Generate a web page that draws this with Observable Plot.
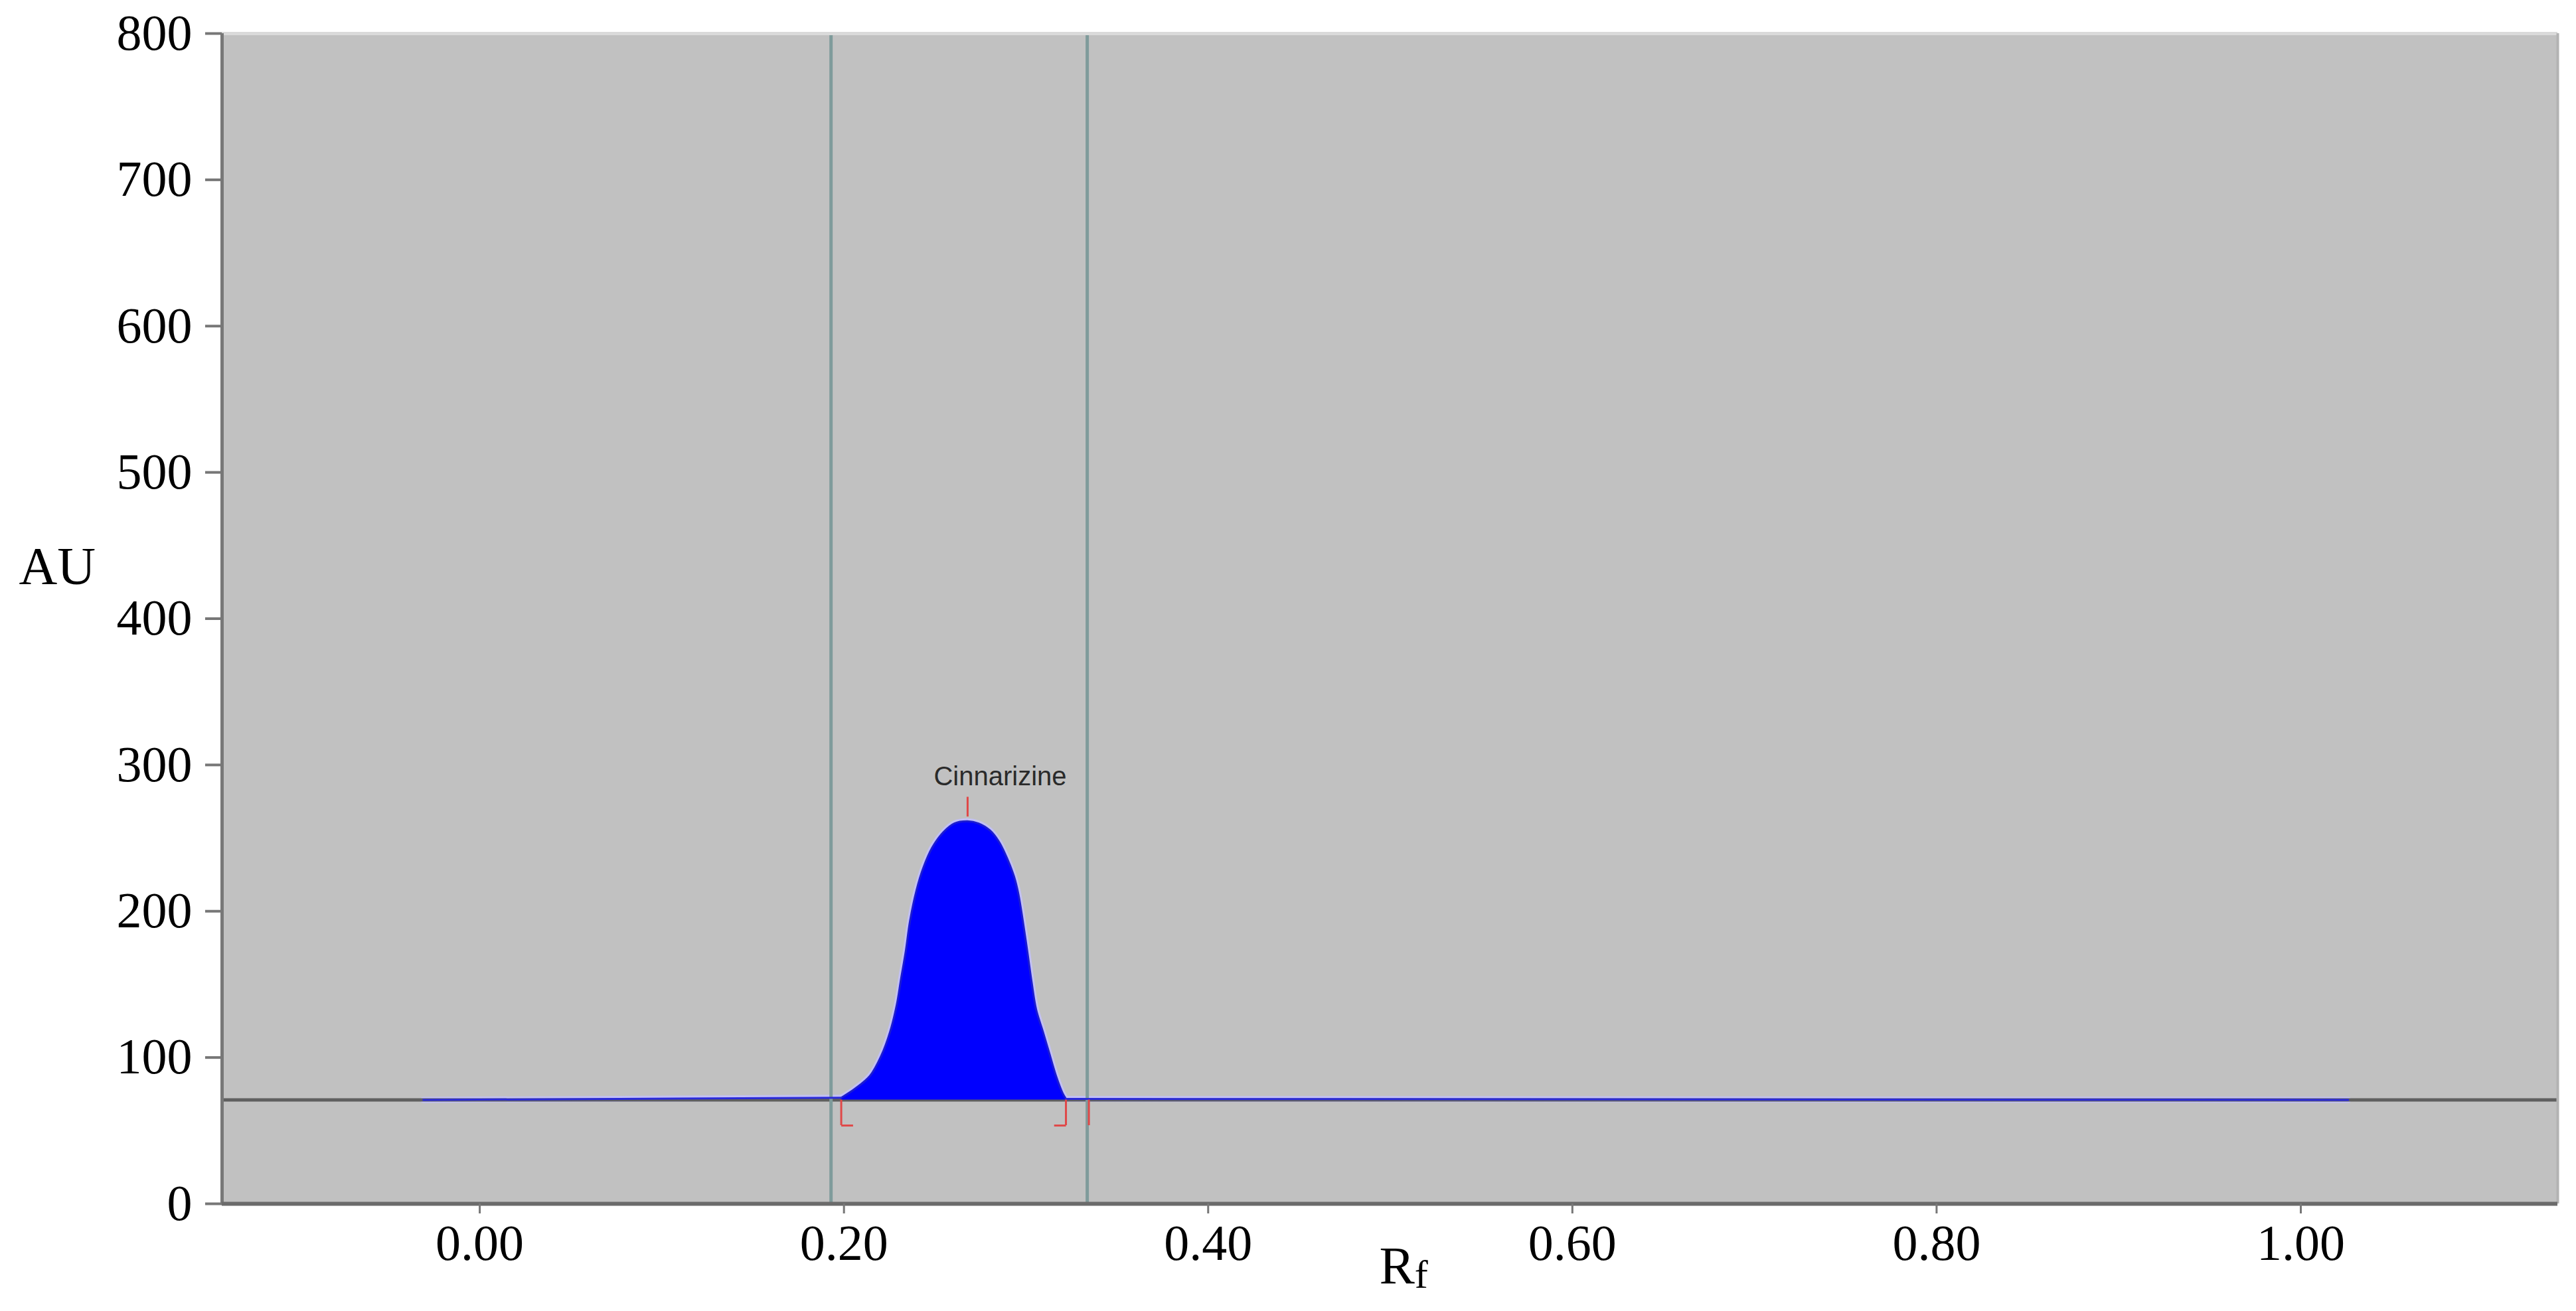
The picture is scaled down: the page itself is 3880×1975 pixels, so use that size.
<!DOCTYPE html>
<html>
<head>
<meta charset="utf-8">
<script src="https://cdn.jsdelivr.net/npm/d3@7"></script>
<script src="https://cdn.jsdelivr.net/npm/@observablehq/plot@0.6"></script>
<style>
  html, body { margin: 0; padding: 0; background: #ffffff; }
  #chart svg { display: block; }
</style>
</head>
<body>
<div id="chart"></div>
<script>
// ---- data ----
const xTickValues = [0.0, 0.2, 0.4, 0.6, 0.8, 1.0];
const yTickValues = [0, 100, 200, 300, 400, 500, 600, 700, 800];
const xDomain = [-0.1415, 1.1411];
const yDomain = [0, 800];

// densitogram trace (Rf, AU)
const signalRf = [-0.031, 0.1985, 0.2059, 0.2144, 0.2205, 0.2254, 0.2290, 0.2314, 0.2339, 0.2363,
  0.2399, 0.2436, 0.2484, 0.2545, 0.2606, 0.2679, 0.2739, 0.2800, 0.2849, 0.2897,
  0.2934, 0.2958, 0.2982, 0.3007, 0.3031, 0.3055, 0.3092, 0.3128, 0.3164, 0.3201,
  0.3219, 1.026];
const signalAU = [71, 72.5, 78.5, 87.6, 101.2, 117.8, 136.0, 154.1, 172.3, 193.4,
  214.6, 229.7, 243.3, 253.9, 260.0, 261.5, 260.0, 255.4, 247.9, 235.8,
  223.7, 211.6, 193.4, 172.3, 151.1, 132.9, 117.8, 102.7, 87.6, 75.5,
  71.7, 71];
const baselineAU = 71;

// integration window (vertical lines)
const windowRf = [0.1929, 0.3336];

// peak annotation
const peakName = ["Cinnarizine"];
const peakLabelRf = 0.2858;
const peakLabelAU = 292;
const peakApexRf = 0.2679;
const peakApexTick = [264.5, 278];
const peakStartRf = 0.1985;
const peakEndRf = 0.3219;
const extraMarkRf = 0.3345;
const markBottomAU = 53.5;
const footLength = 0.0065;

const yAxisLabel = ["AU"];
const xAxisLabel = ["R"];
const xAxisLabelSub = "f";

// ---- derived tables ----
const signal = signalRf.map((rf, i) => ({rf, au: signalAU[i]}));
const peak = signal.filter(d => d.rf >= peakStartRf && d.rf <= peakEndRf);
const tails = signal.map(d => ({...d, seg: d.rf <= peakStartRf ? "left" : d.rf >= peakEndRf ? "right" : null}))
  .filter(d => d.seg);
const bracketRules = [peakStartRf, peakEndRf, extraMarkRf].map(rf => ({rf, y1: markBottomAU, y2: baselineAU}));
const feet = [
  {x1: peakStartRf, x2: peakStartRf + footLength, y: markBottomAU},
  {x1: peakEndRf - footLength, x2: peakEndRf, y: markBottomAU}
];

const serif = "'Liberation Serif', 'Times New Roman', serif";
const curve = "catmull-rom";

const chart = Plot.plot({
  width: 3880,
  height: 1975,
  marginLeft: 334,
  marginRight: 28,
  marginTop: 50,
  marginBottom: 162,
  x: {domain: xDomain},
  y: {domain: yDomain},
  style: {background: "#ffffff", fontFamily: serif, color: "#000"},
  marks: [
    Plot.frame({fill: "#c1c1c1", stroke: null}),
    // halo around the trace
    Plot.line(tails, {x: "rf", y: "au", z: "seg", stroke: "#c2c0f4", strokeWidth: 9}),
    Plot.line(peak, {x: "rf", y: "au", stroke: "#c2c0f4", strokeWidth: 9, curve}),
    // dark baseline across the plot
    Plot.ruleY([baselineAU], {stroke: "#5f5f5f", strokeWidth: 5}),
    // integration window
    Plot.ruleX(windowRf, {stroke: "#7f9b9b", strokeWidth: 5}),
    // filled peak
    Plot.areaY(peak, {x: "rf", y1: baselineAU, y2: "au", fill: "#0000ff", curve}),
    Plot.line(peak, {x: "rf", y: "au", stroke: "#1c1cd0", strokeWidth: 3, curve}),
    Plot.line(tails, {x: "rf", y: "au", z: "seg", stroke: "#2a2ad8", strokeWidth: 3}),
    // red peak markers
    Plot.ruleX(bracketRules, {x: "rf", y1: "y1", y2: "y2", stroke: "#e04848", strokeWidth: 3}),
    Plot.link(feet, {x1: "x1", x2: "x2", y1: "y", y2: "y", stroke: "#e04848", strokeWidth: 3}),
    Plot.ruleX([peakApexRf], {y1: peakApexTick[0], y2: peakApexTick[1], stroke: "#e04848", strokeWidth: 3}),
    Plot.text(peakName, {x: peakLabelRf, y: peakLabelAU, text: d => d, fontSize: 40,
      fontFamily: "'Liberation Sans', Arial, sans-serif", fill: "#2a2a2a"}),
    // frame edges
    Plot.ruleY([yDomain[1]], {stroke: "#dadada", strokeWidth: 5}),
    Plot.ruleX([xDomain[1]], {stroke: "#b3b3b3", strokeWidth: 4}),
    Plot.ruleX([xDomain[0]], {stroke: "#787878", strokeWidth: 5}),
    Plot.ruleY([yDomain[0]], {stroke: "#6b6b6b", strokeWidth: 6}),
    // axes
    Plot.axisY(yTickValues, {tickSize: 25, tickPadding: 20, fontSize: 76, stroke: "#777", strokeWidth: 4,
      fill: "#000", tickFormat: d => String(d), label: null}),
    Plot.axisX(xTickValues, {tickSize: 15, tickPadding: 16, fontSize: 76, stroke: "#777", strokeWidth: 3,
      fill: "#000", tickFormat: d3.format(".2f"), label: null}),
    // axis titles
    Plot.text(yAxisLabel, {frameAnchor: "left", text: d => d, dx: -306, dy: -78, textAnchor: "start",
      fontSize: 80, fill: "#000"}),
    Plot.text(xAxisLabel, {frameAnchor: "bottom", text: d => d, dx: -16, dy: 120, textAnchor: "start",
      fontSize: 80, fill: "#000"})
  ]
});

document.getElementById("chart").appendChild(chart);

// subscript f for the Rf axis title
d3.select(chart).selectAll("text")
  .filter(function() { return this.textContent === xAxisLabel[0]; })
  .append("tspan")
  .attr("font-size", 60)
  .attr("dy", 6)
  .text(xAxisLabelSub);
</script>
</body>
</html>
